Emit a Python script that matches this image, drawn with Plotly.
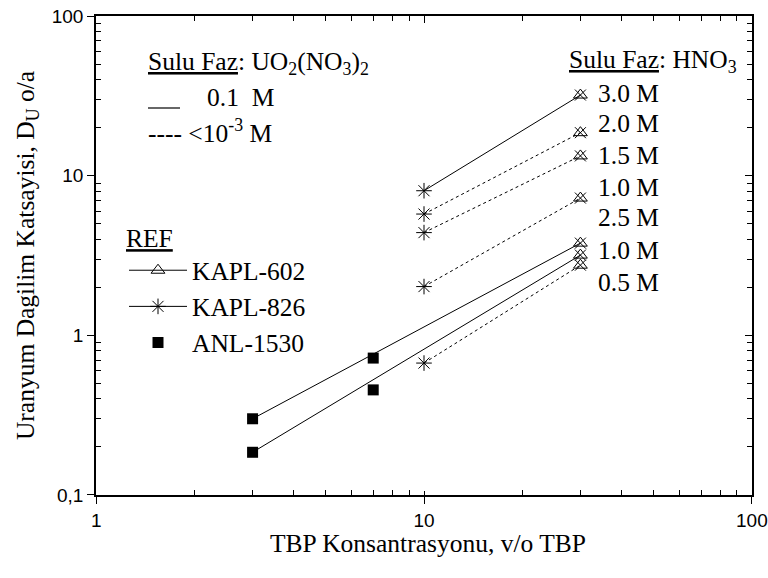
import plotly.graph_objects as go

# ---------------- data ----------------
# KAPL-826 points (asterisks) at 10 v/o TBP
kapl826_x = [10, 10, 10, 10, 10]
kapl826_y = [8.05, 5.75, 4.4, 2.02, 0.67]

# KAPL-602 points (triangle/x) at 30 v/o TBP
kapl602_x = [30, 30, 30, 30, 30, 30, 30]
kapl602_y = [32.0, 18.6, 13.3, 7.24, 3.78, 3.18, 2.75]

# ANL-1530 points (squares)
anl_x = [3, 3, 7, 7]
anl_y = [0.30, 0.185, 0.72, 0.455]

# lines: aqueous 0.1 M UO2(NO3)2 (solid) and <1e-3 M (dashed)
solid_lines = [
    ([10, 30], [8.05, 32.0]),
    ([3, 30], [0.30, 3.78]),
    ([3, 30], [0.185, 3.18]),
]
dashed_lines = [
    ([10, 30], [5.75, 18.6]),
    ([10, 30], [4.4, 13.3]),
    ([10, 30], [2.02, 7.24]),
    ([10, 30], [0.67, 2.75]),
]

hno3_labels = ["3.0 M", "2.0 M", "1.5 M", "1.0 M", "2.5 M", "1.0 M", "0.5 M"]

x_ticks = [1, 10, 100]
x_ticktext = ["1", "10", "100"]
y_ticks = [0.1, 1, 10, 100]
y_ticktext = ["0,1", "1", "10", "100"]
x_minor = [m * d for d in (1, 10) for m in range(2, 10)]
y_minor = [m * d for d in (0.1, 1, 10) for m in range(2, 10)]

# ---------------- layout helpers ----------------
W, H = 768, 578
L, R, T, B = 96, 752, 16, 495
SERIF = "Liberation Serif, Times New Roman, Tinos, DejaVu Serif, serif"
SANS = "Liberation Sans, Arial, Arimo, sans-serif"
FS = 25.5


def px(x):
    return (x - L) / (R - L)


def py(y):
    return (B - y) / (B - T)


fig = go.Figure()

for xs, ys in solid_lines:
    fig.add_trace(go.Scatter(x=xs, y=ys, mode="lines", showlegend=False,
                             line=dict(color="black", width=1)))
for xs, ys in dashed_lines:
    fig.add_trace(go.Scatter(x=xs, y=ys, mode="lines", showlegend=False,
                             line=dict(color="black", width=1, dash="3px,3px")))

# KAPL-602 markers: triangle + x overlay
fig.add_trace(go.Scatter(x=kapl602_x, y=kapl602_y, mode="markers", showlegend=False,
                         marker=dict(symbol="triangle-up-open", size=12,
                                     color="black", line=dict(width=1, color="black"))))
fig.add_trace(go.Scatter(x=kapl602_x, y=kapl602_y, mode="markers", showlegend=False,
                         marker=dict(symbol="x-thin-open", size=11,
                                     color="black", line=dict(width=1, color="black"))))
# KAPL-826 markers: asterisk
fig.add_trace(go.Scatter(x=kapl826_x, y=kapl826_y, mode="markers", showlegend=False,
                         marker=dict(symbol="asterisk-open", size=13,
                                     color="black", line=dict(width=1, color="black"))))
# ANL-1530 markers: squares
fig.add_trace(go.Scatter(x=anl_x, y=anl_y, mode="markers", showlegend=False,
                         marker=dict(symbol="square", size=11, color="black")))

# legend entries (legend-only traces)
fig.add_trace(go.Scatter(x=[None], y=[None], mode="lines+markers", name="KAPL-602",
                         line=dict(color="black", width=1),
                         marker=dict(symbol="triangle-up-open", size=12, color="black",
                                     line=dict(width=1, color="black"))))
fig.add_trace(go.Scatter(x=[None], y=[None], mode="lines+markers", name="KAPL-826",
                         line=dict(color="black", width=1),
                         marker=dict(symbol="asterisk-open", size=13, color="black",
                                     line=dict(width=1, color="black"))))
fig.add_trace(go.Scatter(x=[None], y=[None], mode="markers", name="ANL-1530",
                         marker=dict(symbol="square", size=11, color="black")))

# dummy traces to activate the extra tick axes
fig.add_trace(go.Scatter(x=[None], y=[None], xaxis="x2", yaxis="y2",
                         showlegend=False, hoverinfo="skip"))
fig.add_trace(go.Scatter(x=[None], y=[None], xaxis="x3", yaxis="y",
                         showlegend=False, hoverinfo="skip"))

axis_common = dict(type="log", showgrid=False, zeroline=False, automargin=False,
                   linecolor="black", linewidth=1.5, tickcolor="black")
XR = [-0.0005, 2.0005]
YR = [-1.0005, 2.0005]
minor_x = dict(ticks="inside", ticklen=5, tickcolor="black", tickvals=x_minor, showgrid=False)
minor_y = dict(ticks="inside", ticklen=5, tickcolor="black", tickvals=y_minor, showgrid=False)

fig.update_layout(
    width=W, height=H,
    margin=dict(l=L, r=W - R, t=T, b=H - B, autoexpand=False),
    paper_bgcolor="white", plot_bgcolor="white",
    font=dict(family=SERIF, size=FS, color="black"),
    showlegend=True,
    legend=dict(x=px(124), y=py(214), xanchor="left", yanchor="top",
                bgcolor="rgba(0,0,0,0)", font=dict(family=SERIF, size=FS),
                title=dict(text="<u>REF</u>", font=dict(family=SERIF, size=FS)),
                itemwidth=58, tracegroupgap=0),
    xaxis=dict(**axis_common, range=XR, tickvals=x_ticks, ticktext=x_ticktext,
               ticks="outside", ticklen=7, tickwidth=1, ticklabeloverflow="allow",
               tickfont=dict(family=SANS, size=19),
               minor=minor_x),
    yaxis=dict(**axis_common, range=YR, tickvals=y_ticks, ticktext=y_ticktext,
               ticks="outside", ticklen=7, tickwidth=1, ticklabeloverflow="allow",
               tickfont=dict(family=SANS, size=19),
               minor=minor_y,
               title=dict(text="Uranyum Dagilim Katsayisi, D<sub>U</sub> o/a",
                          font=dict(family=SERIF, size=FS), standoff=10)),
    xaxis2=dict(**axis_common, range=XR, overlaying="x", side="top", anchor="y",
                tickvals=x_ticks, showticklabels=False, ticks="inside", ticklen=7,
                minor=minor_x),
    xaxis3=dict(**axis_common, range=XR, overlaying="x", side="bottom", anchor="y",
                tickvals=x_ticks, showticklabels=False, ticks="inside", ticklen=4,
                minor=minor_x),
    yaxis2=dict(**axis_common, range=YR, overlaying="y", side="right", anchor="x",
                tickvals=y_ticks, showticklabels=False, ticks="inside", ticklen=7,
                minor=minor_y),
)

ann = []


def add_text(text, x, y, anchor="left"):
    ann.append(dict(text=text, x=px(x), y=py(y), xref="paper", yref="paper",
                    xanchor=anchor, yanchor="middle", showarrow=False,
                    font=dict(family=SERIF, size=FS, color="black")))


add_text("<u>Sulu Faz</u>: UO<sub>2</sub>(NO<sub>3</sub>)<sub>2</sub>", 146, 63)
add_text("0.1  M", 205, 98)
add_text("---- &lt;10<sup>-3</sup> M", 146, 131)
add_text("<u>Sulu Faz</u>: HNO<sub>3</sub>", 567, 61)
add_text("TBP Konsantrasyonu, v/o TBP", (L + R) / 2 + 4, 543, anchor="center")

label_y = [93, 123, 155, 187, 218, 250, 282]
for lbl, yy in zip(hno3_labels, label_y):
    add_text(lbl, 596, yy)

fig.update_layout(annotations=ann)

fig.add_shape(type="line", xref="paper", yref="paper",
              x0=px(148), x1=px(180), y0=py(108), y1=py(108),
              line=dict(color="black", width=1.2))

fig.write_html("out.html")
